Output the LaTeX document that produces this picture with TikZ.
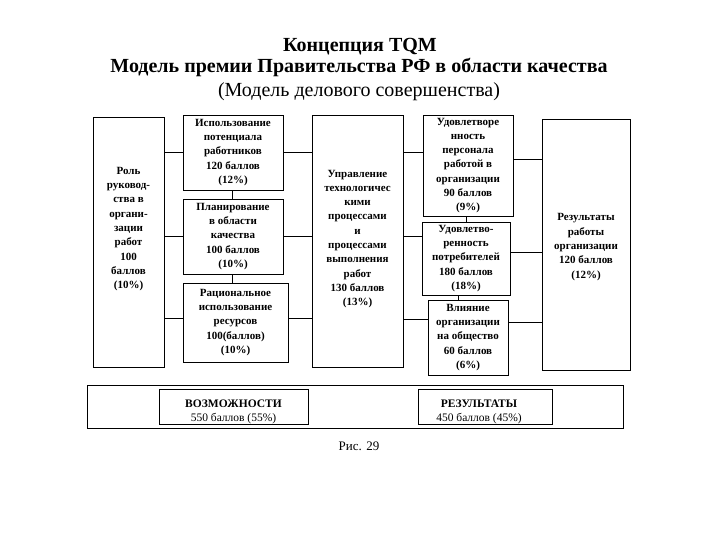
\documentclass[tikz,border=0pt]{standalone}
\usepackage{fontspec}
\setmainfont{Liberation Serif}
\begin{document}
\begin{tikzpicture}[x=1pt,y=-1pt,
  box/.style={draw, line width=0.8pt, inner sep=0pt, align=center,
    font=\bfseries\fontsize{11}{14.3}\selectfont},
  txt/.style={inner sep=0pt, align=center, font=\bfseries\fontsize{11}{14.3}\selectfont},
  ln/.style={line width=0.8pt},
  title/.style={inner sep=0pt, font=\fontsize{20}{24}\selectfont}]
\useasboundingbox (0,0) rectangle (720,540);
% title
\node[title, font=\bfseries\fontsize{20}{24}\selectfont] (t1) at (360,47) {Концепция TQM};
\node[title, font=\bfseries\fontsize{20}{24}\selectfont] (t2) at (359,67) {Модель премии Правительства РФ в области качества};
\node[title] (t3) at (359,92) {(Модель делового совершенства)};
% left
\node[box, minimum width=71, minimum height=250] (role) at (128.5,242) {};
\node[txt] (roletext) at (128.5,229) {Роль\\руковод-\\ства в\\органи-\\зации\\работ\\100\\баллов\\(10\%)};
% middle column
\node[box, minimum width=100, minimum height=75] (use) at (233,152.5) {Использование\\потенциала\\работников\\120 баллов\\(12\%)};
\node[box, minimum width=100, minimum height=75] (plan) at (233,236.5) {Планирование\\в области\\качества\\100 баллов\\(10\%)};
\node[box, minimum width=105, minimum height=79] (rat) at (235.5,322.5) {Рациональное\\использование\\ресурсов\\100(баллов)\\(10\%)};
% process
\node[box, minimum width=91, minimum height=252] (upr) at (357.5,241) {};
\node[txt] (uprtext) at (357.5,239) {Управление\\технологичес\\кими\\процессами\\и\\процессами\\выполнения\\работ\\130 баллов\\(13\%)};
% right column
\node[box, minimum width=90, minimum height=101] (sat1) at (468,165.5) {Удовлетворе\\нность\\персонала\\работой в\\организации\\90 баллов\\(9\%)};
\node[box, minimum width=88, minimum height=73] (sat2) at (466,258.5) {Удовлетво-\\ренность\\потребителей\\180 баллов\\(18\%)};
\node[box, minimum width=80, minimum height=75] (infl) at (468,337.5) {Влияние\\организации\\на общество\\60 баллов\\(6\%)};
% results
\node[box, minimum width=88, minimum height=251] (res) at (586,244.5) {};
\node[txt] (restext) at (586,247) {Результаты\\работы\\организации\\120 баллов\\(12\%)};
% connectors row 1..3
\draw[ln] (use.west -| role.east) -- (use.west);
\draw[ln] (plan.west -| role.east) -- (plan.west);
\draw[ln] ([yshift=4pt]rat.west -| role.east) -- ([yshift=4pt]rat.west);
\draw[ln] (use.east) -- (use.east -| upr.west);
\draw[ln] (plan.east) -- (plan.east -| upr.west);
\draw[ln] ([yshift=4pt]rat.east) -- ([yshift=4pt]rat.east -| upr.west);
\draw[ln] (upr.east |- use.east) -- (sat1.west |- use.east);
\draw[ln] (upr.east |- plan.east) -- (sat2.west |- plan.east);
\draw[ln] ([yshift=3pt]upr.east |- rat.east) -- ([yshift=3pt]infl.west |- rat.east);
\draw[ln] ([yshift=6pt]sat1.east) -- ([yshift=6pt]sat1.east -| res.west);
\draw[ln] ([yshift=6pt]sat2.east) -- ([yshift=6pt]sat2.east -| res.west);
\draw[ln] ([yshift=15pt]infl.east) -- ([yshift=15pt]infl.east -| res.west);
% vertical links
\draw[ln] ([xshift=-1pt]use.south) -- ([xshift=-1pt]use.south |- plan.north);
\draw[ln] ([xshift=-1pt]plan.south) -- ([xshift=-1pt]plan.south |- rat.north);
\draw[ln] ([xshift=-2pt]sat1.south) -- ([xshift=-2pt]sat1.south |- sat2.north);
\draw[ln] ([xshift=-8pt]sat2.south) -- ([xshift=-8pt]sat2.south |- infl.north);
% bottom
\node[box, minimum width=536, minimum height=43] (wide) at (355,406.5) {};
\node[box, minimum width=149, minimum height=35] (opp) at (233.5,406.5) {};
\node[txt, font=\fontsize{11.5}{14}\selectfont] (opptext) at (233.5,412) {\textbf{ВОЗМОЖНОСТИ}\\550 баллов (55\%)};
\node[box, minimum width=134, minimum height=35] (rslt) at (485,406.5) {};
\node[txt, font=\fontsize{11.5}{14}\selectfont] (rslttext) at (479,412) {\textbf{РЕЗУЛЬТАТЫ}\\450 баллов (45\%)};
\node[inner sep=0pt, font=\fontsize{13}{15}\selectfont] (fig) at (359,446) {Рис. 29};
\end{tikzpicture}
\end{document}
